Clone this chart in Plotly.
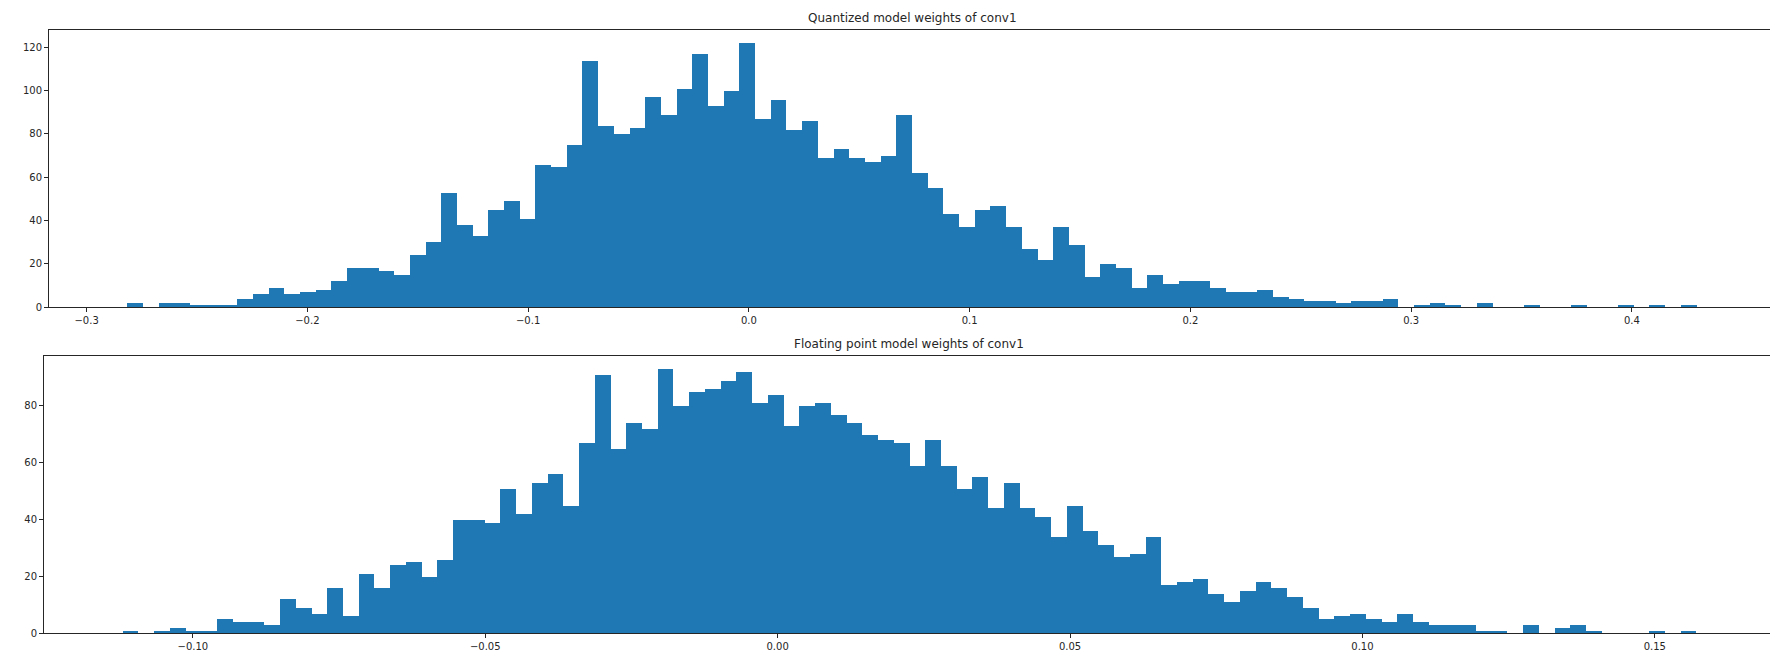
import numpy as np
import plotly.graph_objects as go

# ---- data ----
top_title = "Quantized model weights of conv1"
bottom_title = "Floating point model weights of conv1"

top_lo, top_hi = -0.2815, 0.4293
top_counts = [
    2, 0, 2, 2, 1, 1, 1, 4, 6, 9,
    6, 7, 8, 12, 18, 18, 17, 15, 24, 30,
    53, 38, 33, 45, 49, 41, 66, 65, 75, 114,
    84, 80, 83, 97, 89, 101, 117, 93, 100, 122,
    87, 96, 82, 86, 69, 73, 69, 67, 70, 89,
    62, 55, 43, 37, 45, 47, 37, 27, 22, 37,
    29, 14, 20, 18, 9, 15, 11, 12, 12, 9,
    7, 7, 8, 5, 4, 3, 3, 2, 3, 3,
    4, 0, 1, 2, 1, 0, 2, 0, 0, 1,
    0, 0, 1, 0, 0, 1, 0, 1, 0, 1,
]

bottom_lo, bottom_hi = -0.1120, 0.1571
bottom_counts = [
    1, 0, 1, 2, 1, 1, 5, 4, 4, 3,
    12, 9, 7, 16, 6, 21, 16, 24, 25, 20,
    26, 40, 40, 39, 51, 42, 53, 56, 45, 67,
    91, 65, 74, 72, 93, 80, 85, 86, 89, 92,
    81, 84, 73, 80, 81, 77, 74, 70, 68, 67,
    59, 68, 59, 51, 55, 44, 53, 44, 41, 34,
    45, 36, 31, 27, 28, 34, 17, 18, 19, 14,
    11, 15, 18, 16, 13, 9, 5, 6, 7, 5,
    4, 7, 4, 3, 3, 3, 1, 1, 0, 3,
    0, 2, 3, 1, 0, 0, 0, 1, 0, 1,
]

top_yticks = [0, 20, 40, 60, 80, 100, 120]
bottom_yticks = [0, 20, 40, 60, 80]
top_xticks = [-0.3, -0.2, -0.1, 0.0, 0.1, 0.2, 0.3, 0.4]
bottom_xticks = [-0.10, -0.05, 0.00, 0.05, 0.10, 0.15]

BLUE = "#1f77b4"
W, H = 1778, 656


def bars(lo, hi, counts, xa, ya):
    edges = np.linspace(lo, hi, len(counts) + 1)
    centers = (edges[:-1] + edges[1:]) / 2
    width = edges[1] - edges[0]
    return go.Bar(
        x=centers, y=counts, width=width, xaxis=xa, yaxis=ya,
        marker=dict(color=BLUE, line=dict(width=0)),
        hoverinfo="x+y", showlegend=False,
    )


fig = go.Figure()
fig.add_trace(bars(top_lo, top_hi, top_counts, "x", "y"))
fig.add_trace(bars(bottom_lo, bottom_hi, bottom_counts, "x2", "y2"))


def pad(lo, hi):
    r = hi - lo
    return [lo - 0.05 * r, hi + 0.05 * r]


tick_font = dict(family="DejaVu Sans", size=10, color="#262626")
common_axis = dict(
    showline=True, linecolor="#262626", linewidth=1, mirror=True,
    ticks="outside", ticklen=4, tickcolor="#262626", tickwidth=1,
    showgrid=False, zeroline=False, tickfont=tick_font,
)

top_ydom = [1 - 302 / H, 1 - 22 / H]
bot_ydom = [1 - 631 / H, 1 - 351 / H]

fig.update_layout(
    width=W, height=H,
    margin=dict(l=0, r=0, t=0, b=0),
    paper_bgcolor="white", plot_bgcolor="white",
    bargap=0,
    xaxis=dict(domain=[41 / W, 1767 / W], range=pad(top_lo, top_hi),
               tickvals=top_xticks, tickformat=".1f", anchor="y", **common_axis),
    yaxis=dict(domain=top_ydom, range=[0, max(top_counts) * 1.05],
               tickvals=top_yticks, anchor="x", **common_axis),
    xaxis2=dict(domain=[36 / W, 1767 / W], range=pad(bottom_lo, bottom_hi),
                tickvals=bottom_xticks, tickformat=".2f", anchor="y2", **common_axis),
    yaxis2=dict(domain=bot_ydom, range=[0, max(bottom_counts) * 1.05],
                tickvals=bottom_yticks, anchor="x2", **common_axis),
    annotations=[
        dict(text=top_title, xref="paper", yref="paper",
             x=(41 + 1767) / 2 / W, y=top_ydom[1], yanchor="bottom", yshift=3,
             showarrow=False, font=dict(family="DejaVu Sans", size=12, color="#262626")),
        dict(text=bottom_title, xref="paper", yref="paper",
             x=(36 + 1767) / 2 / W, y=bot_ydom[1], yanchor="bottom", yshift=3,
             showarrow=False, font=dict(family="DejaVu Sans", size=12, color="#262626")),
    ],
)

fig.write_html("out.html")
